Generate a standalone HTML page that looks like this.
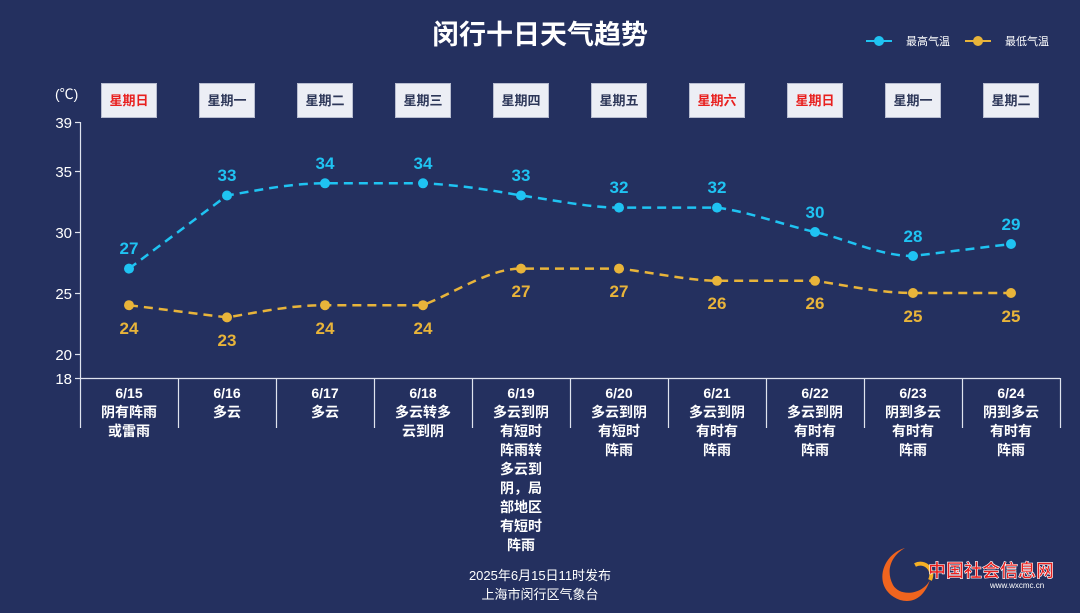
<!DOCTYPE html>
<html><head><meta charset="utf-8"><style>
html,body{margin:0;padding:0;background:#24305f;}
svg{display:block;font-family:"Liberation Sans","Noto Sans CJK SC",sans-serif;}
</style></head><body>
<svg width="1080" height="613" viewBox="0 0 1080 613">
<rect width="1080" height="613" fill="#24305f"/>
<text x="540" y="44" text-anchor="middle" font-size="27" font-weight="bold" fill="#fff">闵行十日天气趋势</text>
<g font-size="11" fill="#fff">
<line x1="866" y1="41" x2="892" y2="41" stroke="#1fc3f2" stroke-width="2"/><circle cx="879" cy="41" r="5" fill="#1fc3f2"/>
<text x="906" y="45">最高气温</text>
<line x1="965" y1="41" x2="991" y2="41" stroke="#e8b43a" stroke-width="2"/><circle cx="978" cy="41" r="5" fill="#e8b43a"/>
<text x="1005" y="45">最低气温</text>
</g>
<text x="55" y="99" font-size="14" fill="#fff">(℃)</text>
<g font-size="13" font-weight="bold" text-anchor="middle">
<g fill="#eceef5" stroke="#b8bdd0" stroke-width="1">
<rect x="101.5" y="83.5" width="55" height="34"/><rect x="199.5" y="83.5" width="55" height="34"/><rect x="297.5" y="83.5" width="55" height="34"/><rect x="395.5" y="83.5" width="55" height="34"/><rect x="493.5" y="83.5" width="55" height="34"/><rect x="591.5" y="83.5" width="55" height="34"/><rect x="689.5" y="83.5" width="55" height="34"/><rect x="787.5" y="83.5" width="55" height="34"/><rect x="885.5" y="83.5" width="55" height="34"/><rect x="983.5" y="83.5" width="55" height="34"/>
</g>
<text x="129" y="105" fill="#e8201f">星期日</text>
<text x="227" y="105" fill="#2d3759">星期一</text>
<text x="325" y="105" fill="#2d3759">星期二</text>
<text x="423" y="105" fill="#2d3759">星期三</text>
<text x="521" y="105" fill="#2d3759">星期四</text>
<text x="619" y="105" fill="#2d3759">星期五</text>
<text x="717" y="105" fill="#e8201f">星期六</text>
<text x="815" y="105" fill="#e8201f">星期日</text>
<text x="913" y="105" fill="#2d3759">星期一</text>
<text x="1011" y="105" fill="#2d3759">星期二</text>
</g>
<g stroke="#dfe3ee" stroke-width="1.2">
<line x1="80.5" y1="122" x2="80.5" y2="428"/>
<line x1="80" y1="378.5" x2="1060" y2="378.5"/>
<line x1="75" y1="122.5" x2="80" y2="122.5"/><line x1="75" y1="171.5" x2="80" y2="171.5"/><line x1="75" y1="232.5" x2="80" y2="232.5"/><line x1="75" y1="293.5" x2="80" y2="293.5"/><line x1="75" y1="354.5" x2="80" y2="354.5"/><line x1="75" y1="378.5" x2="80" y2="378.5"/>
<line x1="178.5" y1="378" x2="178.5" y2="428"/><line x1="276.5" y1="378" x2="276.5" y2="428"/><line x1="374.5" y1="378" x2="374.5" y2="428"/><line x1="472.5" y1="378" x2="472.5" y2="428"/><line x1="570.5" y1="378" x2="570.5" y2="428"/><line x1="668.5" y1="378" x2="668.5" y2="428"/><line x1="766.5" y1="378" x2="766.5" y2="428"/><line x1="864.5" y1="378" x2="864.5" y2="428"/><line x1="962.5" y1="378" x2="962.5" y2="428"/><line x1="1060.5" y1="378" x2="1060.5" y2="428"/>
</g>
<g font-size="15" fill="#fff" text-anchor="end">
<text x="72" y="128">39</text><text x="72" y="177">35</text><text x="72" y="238">30</text><text x="72" y="299">25</text><text x="72" y="360">20</text><text x="72" y="384">18</text>
</g>
<path d="M129,268.6 L227,195.5 C260,190 290,183.3 325,183.3 L423,183.3 C460,185 490,190 521,195.5 C560,201 590,207.6 619,207.6 L717,207.6 C750,212 780,224 815,232 C850,240 880,256 913,256 L1011,244" fill="none" stroke="#1fc3f2" stroke-width="2.5" stroke-dasharray="9,6"/>
<path d="M129,305.2 L227,317.4 C260,312 290,305.2 325,305.2 L423,305.2 C460,290 490,268.6 521,268.6 L619,268.6 C650,272 690,280.8 717,280.8 L815,280.8 C850,286 880,293 913,293 L1011,293" fill="none" stroke="#e8b43a" stroke-width="2.5" stroke-dasharray="9,6"/>
<g fill="#1fc3f2"><circle cx="129" cy="268.6" r="5"/><circle cx="227" cy="195.5" r="5"/><circle cx="325" cy="183.3" r="5"/><circle cx="423" cy="183.3" r="5"/><circle cx="521" cy="195.5" r="5"/><circle cx="619" cy="207.6" r="5"/><circle cx="717" cy="207.6" r="5"/><circle cx="815" cy="232" r="5"/><circle cx="913" cy="256" r="5"/><circle cx="1011" cy="244" r="5"/></g>
<g fill="#e8b43a"><circle cx="129" cy="305.2" r="5"/><circle cx="227" cy="317.4" r="5"/><circle cx="325" cy="305.2" r="5"/><circle cx="423" cy="305.2" r="5"/><circle cx="521" cy="268.6" r="5"/><circle cx="619" cy="268.6" r="5"/><circle cx="717" cy="280.8" r="5"/><circle cx="815" cy="280.8" r="5"/><circle cx="913" cy="293" r="5"/><circle cx="1011" cy="293" r="5"/></g>
<g font-size="17" font-weight="bold" fill="#1fc3f2" text-anchor="middle">
<text x="129" y="254">27</text><text x="227" y="181">33</text><text x="325" y="169">34</text><text x="423" y="169">34</text><text x="521" y="181">33</text><text x="619" y="193">32</text><text x="717" y="193">32</text><text x="815" y="218">30</text><text x="913" y="242">28</text><text x="1011" y="230">29</text>
</g>
<g font-size="17" font-weight="bold" fill="#e8b43a" text-anchor="middle">
<text x="129" y="334">24</text><text x="227" y="346">23</text><text x="325" y="334">24</text><text x="423" y="334">24</text><text x="521" y="297">27</text><text x="619" y="297">27</text><text x="717" y="309">26</text><text x="815" y="309">26</text><text x="913" y="322">25</text><text x="1011" y="322">25</text>
</g>
<g font-size="14" font-weight="bold" fill="#fff" text-anchor="middle">
<text x="129" y="398">6/15</text><text x="129" y="417">阴有阵雨</text><text x="129" y="436">或雷雨</text>
<text x="227" y="398">6/16</text><text x="227" y="417">多云</text>
<text x="325" y="398">6/17</text><text x="325" y="417">多云</text>
<text x="423" y="398">6/18</text><text x="423" y="417">多云转多</text><text x="423" y="436">云到阴</text>
<text x="521" y="398">6/19</text><text x="521" y="417">多云到阴</text><text x="521" y="436">有短时</text><text x="521" y="455">阵雨转</text><text x="521" y="474">多云到</text><text x="521" y="493">阴，局</text><text x="521" y="512">部地区</text><text x="521" y="531">有短时</text><text x="521" y="550">阵雨</text>
<text x="619" y="398">6/20</text><text x="619" y="417">多云到阴</text><text x="619" y="436">有短时</text><text x="619" y="455">阵雨</text>
<text x="717" y="398">6/21</text><text x="717" y="417">多云到阴</text><text x="717" y="436">有时有</text><text x="717" y="455">阵雨</text>
<text x="815" y="398">6/22</text><text x="815" y="417">多云到阴</text><text x="815" y="436">有时有</text><text x="815" y="455">阵雨</text>
<text x="913" y="398">6/23</text><text x="913" y="417">阴到多云</text><text x="913" y="436">有时有</text><text x="913" y="455">阵雨</text>
<text x="1011" y="398">6/24</text><text x="1011" y="417">阴到多云</text><text x="1011" y="436">有时有</text><text x="1011" y="455">阵雨</text>
</g>
<g font-size="13" fill="#fff" text-anchor="middle">
<text x="540" y="580">2025年6月15日11时发布</text>
<text x="540" y="599">上海市闵行区气象台</text>
</g>
<path d="M905,548 C880,555 872,590 900,600 C915,604 925,595 930,580 C922,595 900,597 893,585 C885,570 892,555 905,548 Z" fill="#f0641e"/>
<path d="M915,565 C925,560 935,570 930,580" fill="none" stroke="#f5b025" stroke-width="4"/>
<text x="928" y="577" font-size="18" font-weight="bold" fill="#e8201f" stroke="#fff" stroke-width="0.6">中国社会信息网</text>
<text x="990" y="588" font-size="8" fill="#fff">www.wxcmc.cn</text>
</svg>
</body></html>
